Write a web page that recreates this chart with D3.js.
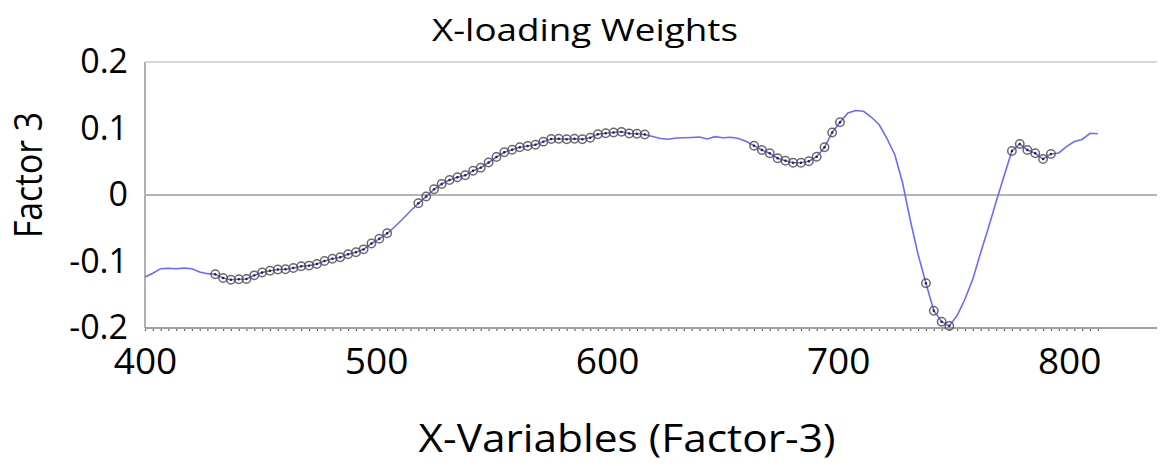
<!DOCTYPE html>
<html>
<head>
<meta charset="utf-8">
<script src="https://cdn.jsdelivr.net/npm/d3@7"></script>
<style>
    body { margin: 0; background: #fff; }
    svg { display: block; font-family: "Open Sans", sans-serif; }
</style>
</head>
<body>
<div id="chart"></div>
<script>
// X-variables (wavelength) and loading weights for factor 3
const wavelengths = [
    400.0, 403.4, 406.8, 410.1, 413.5, 416.9, 420.3, 423.7, 427.0, 430.4,
    433.8, 437.2, 440.6, 443.9, 447.3, 450.7, 454.1, 457.5, 460.8, 464.2,
    467.6, 471.0, 474.4, 477.7, 481.1, 484.5, 487.9, 491.3, 494.6, 498.0,
    501.4, 504.8, 508.2, 511.5, 514.9, 518.3, 521.7, 525.1, 528.4, 531.8,
    535.2, 538.6, 542.0, 545.3, 548.7, 552.1, 555.5, 558.9, 562.2, 565.6,
    569.0, 572.4, 575.8, 579.1, 582.5, 585.9, 589.3, 592.7, 596.0, 599.4,
    602.8, 606.2, 609.6, 612.9, 616.3, 619.7, 623.1, 626.5, 629.8, 633.2,
    636.6, 640.0, 643.4, 646.7, 650.1, 653.5, 656.9, 660.3, 663.6, 667.0,
    670.4, 673.8, 677.2, 680.5, 683.9, 687.3, 690.7, 694.1, 697.4, 700.8,
    704.2, 707.6, 711.0, 714.3, 717.7, 721.1, 724.5, 727.9, 731.2, 734.6,
    738.0, 741.4, 744.8, 748.1, 751.5, 754.9, 758.3, 761.7, 765.0, 768.4,
    771.8, 775.2, 778.6, 781.9, 785.3, 788.7, 792.1, 795.5, 798.8, 802.2,
    805.6, 809.0, 812.4
];
const loadings = [
    -0.1233, -0.1177, -0.1108, -0.1102, -0.1108, -0.1098, -0.1108, -0.1158, -0.1183, -0.1192,
    -0.1248, -0.1274, -0.1268, -0.1263, -0.1208, -0.1165, -0.1140, -0.1120, -0.1117, -0.1098,
    -0.1072, -0.1062, -0.1038, -0.0992, -0.0959, -0.0937, -0.0892, -0.0860, -0.0817, -0.0729,
    -0.0659, -0.0576, -0.0474, -0.0361, -0.0241, -0.0125, -0.0023, 0.0086, 0.0165, 0.0226,
    0.0266, 0.0296, 0.0365, 0.0411, 0.0489, 0.0571, 0.0642, 0.0681, 0.0717, 0.0737,
    0.0755, 0.0802, 0.0842, 0.0845, 0.0839, 0.0845, 0.0839, 0.0860, 0.0913, 0.0928,
    0.0940, 0.0950, 0.0925, 0.0920, 0.0910, 0.0880, 0.0850, 0.0838, 0.0857, 0.0860,
    0.0865, 0.0872, 0.0842, 0.0877, 0.0862, 0.0868, 0.0850, 0.0805, 0.0741, 0.0677,
    0.0627, 0.0552, 0.0516, 0.0486, 0.0486, 0.0507, 0.0576, 0.0717, 0.0940, 0.1093,
    0.1233, 0.1271, 0.1259, 0.1173, 0.1060, 0.0850, 0.0609, 0.0180, -0.0376, -0.0895,
    -0.1328, -0.1740, -0.1905, -0.1970, -0.1812, -0.1564, -0.1263, -0.0865, -0.0496, -0.0098,
    0.0286, 0.0662, 0.0767, 0.0677, 0.0627, 0.0541, 0.0617, 0.0632, 0.0729, 0.0805,
    0.0835, 0.0928, 0.0920
];
// wavelength ranges of the selected (circled) variables
const selectedRanges = [[430.4, 504.8], [518.3, 616.3], [663.6, 700.8], [738.0, 748.1], [775.2, 792.1]];

const xTicks = [400, 500, 600, 700, 800];
const yTicks = [-0.2, -0.1, 0, 0.1, 0.2];
const yTickLabels = ["-0.2", "-0.1", "0", "0.1", "0.2"];

const chartTitle = "X-loading Weights";
const xTitle = "X-Variables (Factor-3)";
const yTitle = "Factor 3";

const data = wavelengths.map((w, i) => ({x: w, y: loadings[i]}));
const selected = data.filter(d => selectedRanges.some(r => d.x >= r[0] - 0.01 && d.x <= r[1] + 0.01));

const width = 1166, height = 466;
const plot = {left: 145, right: 1157, top: 62, bottom: 328};

const svg = d3.select("#chart")
    .append("svg")
    .attr("width", width)
    .attr("height", height);

// scales
const x = d3.scaleLinear()
    .domain([400, 838])
    .range([plot.left, plot.right]);
const y = d3.scaleLinear()
    .domain([-0.2, 0.2])
    .range([plot.bottom, plot.top]);

// frame: top border, left axis, zero line
svg.append("line")
    .attr("x1", plot.left).attr("x2", plot.right)
    .attr("y1", plot.top).attr("y2", plot.top)
    .style("stroke", "#c8c8c8")
    .style("stroke-width", 1.5);
svg.append("line")
    .attr("x1", plot.left).attr("x2", plot.left)
    .attr("y1", plot.top).attr("y2", plot.bottom)
    .style("stroke", "#b0b0b0")
    .style("stroke-width", 2);
svg.append("line")
    .attr("x1", plot.left).attr("x2", plot.right)
    .attr("y1", y(0)).attr("y2", y(0))
    .style("stroke", "#b4b4b4")
    .style("stroke-width", 2);

// small ticks on the bottom, one per variable
svg.append("g")
    .attr("transform", `translate(0, ${plot.bottom})`)
    .call(d3.axisBottom(x).tickValues(wavelengths).tickSize(3).tickFormat(""))
    .call(g => g.select(".domain").remove())
    .call(g => g.selectAll(".tick line").style("stroke", "#666").style("stroke-width", 1.2));

svg.append("line")
    .attr("x1", plot.left).attr("x2", plot.right)
    .attr("y1", plot.bottom).attr("y2", plot.bottom)
    .style("stroke", "#a0a0a0")
    .style("stroke-width", 2);

// X axis labels
svg.append("g")
    .attr("transform", `translate(0, ${plot.bottom})`)
    .call(d3.axisBottom(x).tickValues(xTicks).tickSize(0).tickPadding(20).tickFormat(d3.format("d")))
    .call(g => g.select(".domain").remove())
    .call(g => g.selectAll("text")
        .style("font-family", "'Open Sans', sans-serif")
        .style("font-size", "37px")
        .style("fill", "#000"));

// Y axis labels
svg.append("g")
    .attr("transform", `translate(${plot.left}, 0)`)
    .call(d3.axisLeft(y).tickValues(yTicks).tickSize(0).tickPadding(17)
        .tickFormat((d, i) => yTickLabels[i]))
    .call(g => g.select(".domain").remove())
    .call(g => g.selectAll("text")
        .style("font-family", "'Open Sans', sans-serif")
        .style("font-size", "34px")
        .style("fill", "#000"));

// the loading weights line
const line = d3.line()
    .x(d => x(d.x))
    .y(d => y(d.y));

svg.append("path")
    .datum(data)
    .attr("d", line)
    .style("fill", "none")
    .style("stroke", "#6b6bff")
    .style("stroke-width", 1.6);

// circles for the selected variables
svg.selectAll(".sel")
    .data(selected)
    .join("circle")
    .attr("class", "sel")
    .attr("cx", d => x(d.x))
    .attr("cy", d => y(d.y))
    .attr("r", 4.2)
    .style("fill", "none")
    .style("stroke", "#505050")
    .style("stroke-opacity", 0.85)
    .style("stroke-width", 1.5);
svg.selectAll(".dot")
    .data(selected)
    .join("circle")
    .attr("class", "dot")
    .attr("cx", d => x(d.x))
    .attr("cy", d => y(d.y))
    .attr("r", 1.2)
    .style("fill", "#222");

// titles
svg.append("text")
    .attr("x", 585)
    .attr("y", 41)
    .attr("text-anchor", "middle")
    .attr("textLength", 306)
    .attr("lengthAdjust", "spacingAndGlyphs")
    .style("font-size", "31px")
    .text(chartTitle);

svg.append("text")
    .attr("x", 627)
    .attr("y", 452)
    .attr("text-anchor", "middle")
    .attr("textLength", 417)
    .attr("lengthAdjust", "spacingAndGlyphs")
    .style("font-size", "39px")
    .text(xTitle);

svg.append("text")
    .attr("transform", "translate(42, 175) rotate(-90)")
    .attr("text-anchor", "middle")
    .attr("textLength", 126)
    .attr("lengthAdjust", "spacingAndGlyphs")
    .style("font-size", "38px")
    .text(yTitle);
</script>
</body>
</html>
